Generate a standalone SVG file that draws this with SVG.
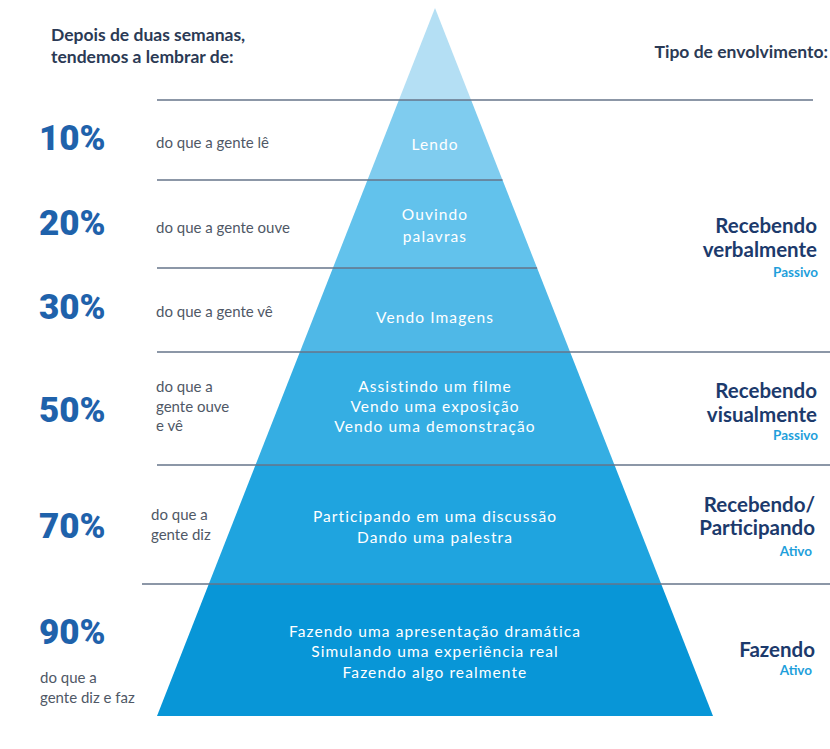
<svg xmlns="http://www.w3.org/2000/svg" width="830" height="749" viewBox="0 0 830 749">
<style>
.hdr{font-family:Lato,"Liberation Sans",sans-serif;font-weight:700;font-size:17.5px;fill:#2b3a55}
.pct{font-family:Roboto,"Liberation Sans",sans-serif;font-weight:900;font-size:35px;fill:#1f62ab}
.desc{font-family:Lato,"Liberation Sans",sans-serif;font-size:15px;fill:#4f5866}
.in{font-family:Lato,"Noto Sans",sans-serif;font-size:15.5px;fill:#ffffff;text-anchor:middle;letter-spacing:1.1px}
.typ{font-family:Lato,"Liberation Sans",sans-serif;font-weight:700;font-size:20.5px;fill:#1c3a6c;text-anchor:end}
.sub{font-family:Lato,"Liberation Sans",sans-serif;font-weight:700;font-size:13.5px;fill:#1f9fdb;text-anchor:end}
.ln{stroke:#66748a;stroke-width:1.6;fill:none}
</style>
<rect width="830" height="749" fill="#ffffff"/>
<g id="header">
<text class="hdr" x="51" y="41">Depois de duas semanas,</text>
<text class="hdr" x="51" y="63">tendemos a lembrar de:</text>
<text class="hdr" x="828" y="58" text-anchor="end">Tipo de envolvimento:</text>
</g>
<g id="band-top"><polygon points="435,8 471.1,100 398.9,100" fill="#b4dff4"/></g>
<g id="band-lendo"><polygon points="398.9,100 471.1,100 502.5,180 367.5,180" fill="#7fccef"/>
<text class="in" x="435" y="150">Lendo</text></g>
<g id="band-ouvindo"><polygon points="367.5,180 502.5,180 537.1,268 332.9,268" fill="#62c2ec"/>
<text class="in" x="435" y="220">Ouvindo</text><text class="in" x="435" y="242">palavras</text></g>
<g id="band-vendo"><polygon points="332.9,268 537.1,268 570.1,352 299.9,352" fill="#4fb8e7"/>
<text class="in" x="435" y="323">Vendo Imagens</text></g>
<g id="band-assistindo"><polygon points="299.9,352 570.1,352 614.5,465 255.5,465" fill="#35aee3"/>
<text class="in" x="435" y="392">Assistindo um filme</text>
<text class="in" x="435" y="412">Vendo uma exposição</text>
<text class="in" x="435" y="432">Vendo uma demonstração</text></g>
<g id="band-participando"><polygon points="255.5,465 614.5,465 661.2,584 208.8,584" fill="#1fa4df"/>
<text class="in" x="435" y="522">Participando em uma discussão</text>
<text class="in" x="435" y="543">Dando uma palestra</text></g>
<g id="band-fazendo"><polygon points="208.8,584 661.2,584 713,716 157,716" fill="#0896d7"/>
<text class="in" x="435" y="637">Fazendo uma apresentação dramática</text>
<text class="in" x="435" y="657">Simulando uma experiência real</text>
<text class="in" x="435" y="678">Fazendo algo realmente</text></g>
<g id="connectors">
<line class="ln" x1="157" y1="100" x2="813" y2="100"/>
<line class="ln" x1="157" y1="180" x2="502.5" y2="180"/>
<line class="ln" x1="157" y1="268" x2="537.1" y2="268"/>
<line class="ln" x1="157" y1="352" x2="830" y2="352"/>
<line class="ln" x1="157" y1="465" x2="830" y2="465"/>
<line class="ln" x1="142" y1="584" x2="830" y2="584"/>
</g>
<g id="row-10"><text class="pct" x="39" y="150">10%</text><text class="desc" x="156" y="148">do que a gente lê</text></g>
<g id="row-20"><text class="pct" x="39" y="235">20%</text><text class="desc" x="156" y="233">do que a gente ouve</text></g>
<g id="row-30"><text class="pct" x="39" y="319">30%</text><text class="desc" x="156" y="317">do que a gente vê</text></g>
<g id="row-50"><text class="pct" x="39" y="422">50%</text><text class="desc" x="156" y="392">do que a</text><text class="desc" x="156" y="412">gente ouve</text><text class="desc" x="156" y="431">e vê</text></g>
<g id="row-70"><text class="pct" x="39" y="538">70%</text><text class="desc" x="151" y="520">do que a</text><text class="desc" x="151" y="540">gente diz</text></g>
<g id="row-90"><text class="pct" x="39" y="644">90%</text><text class="desc" x="40" y="683">do que a</text><text class="desc" x="40" y="703">gente diz e faz</text></g>
<g id="type-verbal"><text class="typ" x="817" y="233">Recebendo</text><text class="typ" x="817" y="257">verbalmente</text><text class="sub" x="818" y="277">Passivo</text></g>
<g id="type-visual"><text class="typ" x="817" y="398">Recebendo</text><text class="typ" x="817" y="422">visualmente</text><text class="sub" x="818" y="440">Passivo</text></g>
<g id="type-part"><text class="typ" x="815" y="512">Recebendo/</text><text class="typ" x="815" y="535">Participando</text><text class="sub" x="812" y="556">Ativo</text></g>
<g id="type-fazendo"><text class="typ" x="815" y="657">Fazendo</text><text class="sub" x="812" y="675">Ativo</text></g>
</svg>
